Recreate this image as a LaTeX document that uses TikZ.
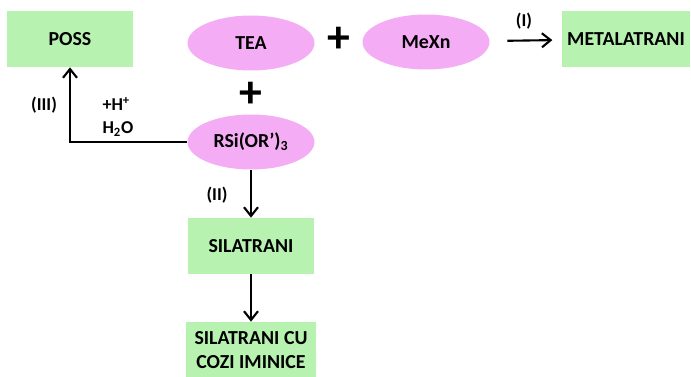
\documentclass[tikz,border=0pt]{standalone}
\usepackage{fontspec}
\setmainfont{Carlito}
\usetikzlibrary{shapes.geometric,arrows.meta}
\definecolor{boxgreen}{RGB}{184,242,176}
\definecolor{ovalpink}{RGB}{244,172,244}
\tikzset{
  prodbox/.style={fill=boxgreen, minimum width=2.54cm, minimum height=1.12cm, inner sep=1pt, align=center, font=\fontsize{11.3}{13.5}\selectfont\bfseries},
  reagoval/.style={ellipse, fill=ovalpink, minimum width=2.54cm, minimum height=1.1cm, inner sep=1pt, font=\fontsize{11.3}{13.5}\selectfont\bfseries},
  plussign/.style={font=\fontsize{26}{26}\selectfont\bfseries},
  steplabel/.style={font=\fontsize{10.3}{13}\selectfont\bfseries, align=left},
  rxn/.style={-{Straight Barb[length=5pt,width=8pt,line width=1.2pt]}, line width=1.2pt}
}
\begin{document}
\begin{tikzpicture}[x=0.02cm, y=-0.02cm]
\useasboundingbox (0,0) rectangle (691,376);
% top row
\node [prodbox] (poss) at (70,39) {POSS};
\node [reagoval] (tea) at (251,43) {TEA};
\node [plussign] (plusa) at (339,40) {+};
\node [reagoval] (mexn) at (426,42) {MeXn};
\node [prodbox, minimum width=2.58cm] (metal) at (626,39) {METALATRANI};
\draw [rxn, shorten <=10pt, shorten >=5pt] (mexn) -- (metal); \node [steplabel] (stepi) at (524,21) {(I)};
% silane
\node [plussign] (plusb) at (251,95) {+};
\node [reagoval] (rsi) at (251,142) {RSi(OR’)\textsubscript{3}};
\draw [rxn] (rsi.west) -| (poss.south); \node [steplabel] (stepiii) at (44,105) {(III)};
\node [steplabel] (cond) at (118,117) {+H\textsuperscript{+}\\H\textsubscript{2}O};
% silatrane branch
\node [prodbox] (sila) at (251,246) {SILATRANI};
\draw [rxn] (rsi) -- (sila); \node [steplabel] (stepii) at (217,195) {(II)};
\node [prodbox, minimum width=2.6cm] (imin) at (251,350) {SILATRANI CU\\COZI IMINICE};
\draw [rxn] (sila) -- (imin);
\end{tikzpicture}
\end{document}
